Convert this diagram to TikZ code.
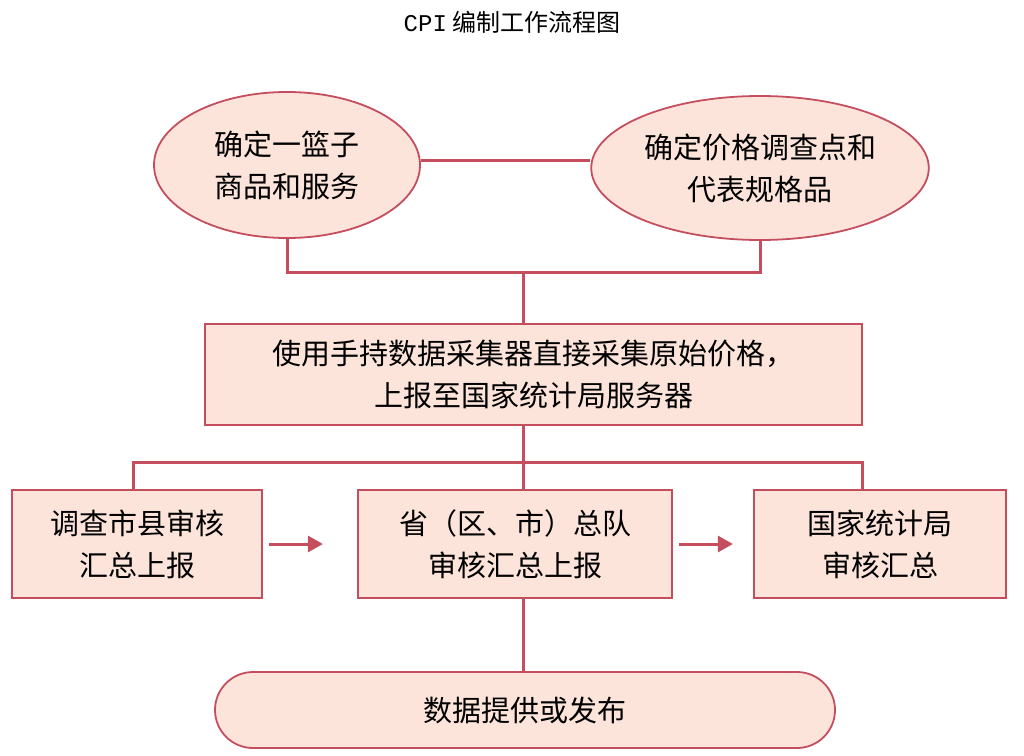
\documentclass[tikz,border=0pt]{standalone}
\usepackage{fontspec}
\setmainfont{Noto Sans CJK SC}
\newfontfamily\monofont{Liberation Mono}
\usetikzlibrary{positioning,arrows.meta,shapes.geometric}
\definecolor{edge}{HTML}{C44E5E}
\definecolor{pinkfill}{HTML}{FCE4DA}
\tikzset{
  stepbox/.style={draw=edge,line width=1.8pt,fill=pinkfill,align=center,font=\fontsize{29}{42}\selectfont},
  link/.style={draw=edge,line width=3pt},
  pointer/.style={link,-{Triangle[length=15pt,width=16pt]}}
}
\begin{document}
\begin{tikzpicture}[x=1pt,y=-1pt]
\useasboundingbox (0,0) rectangle (1024,755);
% title
\node (title) at (512,22) {\fontsize{24}{28}\selectfont{\monofont CPI} 编制工作流程图};
% top row
\node[stepbox,ellipse,minimum width=266pt,minimum height=146pt] (basket) at (287,165) {确定一篮子\\商品和服务};
\node[stepbox,ellipse,minimum width=330pt,minimum height=144pt] (points) at (760,168) {确定价格调查点和\\代表规格品};
\coordinate (join) at (523,272);
\draw[link] (basket.east |- 0,160) -- (points.west |- 0,160);
\draw[link] (basket.south) -- (287,272) -- (760,272) -- (points.south);
% collection
\node[stepbox,minimum width=657pt,minimum height=101pt] (collect) at (533.5,374.5) {使用手持数据采集器直接采集原始价格，\\上报至国家统计局服务器};
\draw[link] (join) -- (join |- collect.north);
% review row
\node[stepbox,minimum width=250pt,minimum height=108pt] (county) at (137,544) {调查市县审核\\汇总上报};
\node[stepbox,minimum width=314pt,minimum height=108pt] (province) at (515,544) {省（区、市）总队\\审核汇总上报};
\node[stepbox,minimum width=252pt,minimum height=108pt] (nation) at (880,544) {国家统计局\\审核汇总};
\coordinate (split) at (523,462);
\draw[link] (split |- collect.south) -- (split);
\draw[link] (133,490) -- (133,462) -- (862,462) -- (862,490);
\draw[link] (split) -- (split |- province.north);
\draw[pointer] (county.east) ++(6,0) -- ++(54,0);
\draw[pointer] (province.east) ++(6,0) -- ++(54,0);
% release
\node[stepbox,rounded corners=38pt,minimum width=620pt,minimum height=76pt] (release) at (525,710) {数据提供或发布};
\draw[link] (split |- province.south) -- (split |- release.north);
\end{tikzpicture}
\end{document}
